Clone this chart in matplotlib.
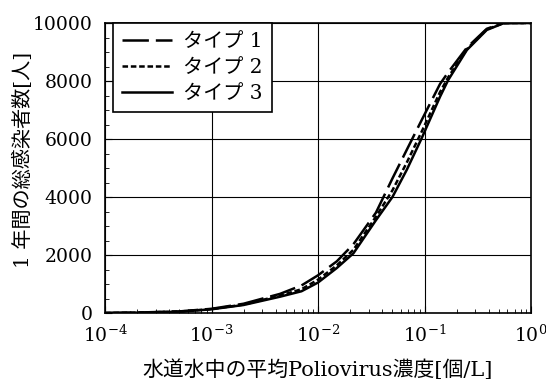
import matplotlib
matplotlib.use("Agg")
import matplotlib.pyplot as plt
from matplotlib.ticker import MultipleLocator, LogLocator, NullFormatter

plt.rcParams['font.family'] = ['DejaVu Serif', 'Noto Sans CJK JP']
plt.rcParams['mathtext.fontset'] = 'dejavuserif'
plt.rcParams['lines.scale_dashes'] = False

# concentration [個/L] and annual infections [人]
conc = [1e-4, 2e-4, 5e-4, 1e-3, 2e-3, 4.4e-3, 7e-3, 1e-2, 1.5e-2, 2.15e-2,
        3.5e-2, 5e-2, 6.8e-2, 9.4e-2, 1.4e-1, 1.67e-1, 2.5e-1, 3.84e-1,
        5.5e-1, 7e-1, 1.0]
type1 = [0, 15, 55, 145, 320, 660, 950, 1300, 1780, 2370,
         3460, 4640, 5620, 6650, 7900, 8300, 9150, 9800,
         10000, 10000, 10000]
type2 = [0, 13, 50, 135, 290, 600, 820, 1150, 1640, 2180,
         3320, 4230, 5180, 6250, 7620, 8130, 9100, 9780,
         9995, 10000, 10000]
type3 = [0, 12, 45, 128, 276, 562, 750, 1050, 1550, 2058,
         3200, 4000, 4930, 6024, 7460, 8034, 9069, 9759,
         9990, 10000, 10000]
labels = ["タイプ 1", "タイプ 2", "タイプ 3"]

fig = plt.figure(figsize=(5.46, 3.82), dpi=100)
ax = fig.add_axes([105/546, 1-313/382, 426/546, 290/382])

ax.plot(conc, type1, color='black', lw=1.8, dashes=(19, 5), label=labels[0])
ax.plot(conc, type2, color='black', lw=1.8, dashes=(4, 2), label=labels[1])
ax.plot(conc, type3, color='black', lw=1.8, label=labels[2])

ax.set_xscale('log')
ax.set_xlim(1e-4, 1)
ax.set_ylim(0, 10000)
ax.yaxis.set_major_locator(MultipleLocator(2000))
ax.yaxis.set_minor_locator(MultipleLocator(500))
ax.xaxis.set_major_locator(LogLocator(base=10, numticks=10))
ax.xaxis.set_minor_locator(LogLocator(base=10, subs=range(2, 10), numticks=10))
ax.xaxis.set_minor_formatter(NullFormatter())
ax.grid(True, which='major', color='black', lw=0.8)
ax.tick_params(which='both', direction='in', labelsize=13.5)
ax.tick_params(which='major', length=5)
ax.tick_params(which='minor', length=3)
ax.tick_params(axis='x', pad=8)
ax.tick_params(axis='y', pad=9)
for s in ax.spines.values():
    s.set_linewidth(1.2)

ax.set_ylabel("1 年間の総感染者数[人]", fontsize=14.5)
ax.yaxis.set_label_coords(-0.17, 0.528)
ax.set_xlabel("水道水中の平均Poliovirus濃度[個/L]", fontsize=15)
ax.xaxis.set_label_coords(0.5, -0.16)

leg = ax.legend(loc='upper left', bbox_to_anchor=(8/426, 1.0), fontsize=14.5,
                frameon=True, fancybox=False, edgecolor='black', framealpha=1,
                borderaxespad=0, handlelength=2.5, handletextpad=0.55,
                labelspacing=0.35, borderpad=0.45)
leg.get_frame().set_linewidth(1.2)

fig.savefig("out.png", dpi=100)
